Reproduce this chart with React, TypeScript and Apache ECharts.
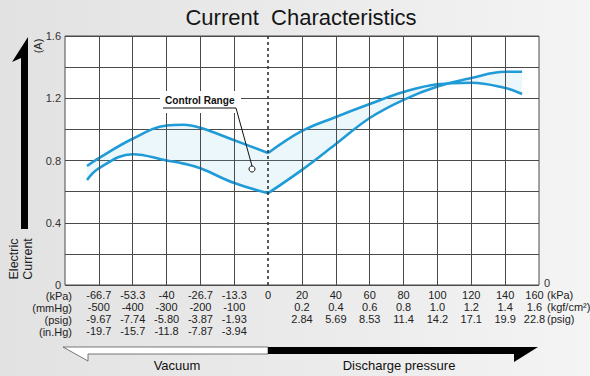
import React, { useEffect, useRef } from "react";
import * as echarts from "echarts";

// x positions are in "grid column" units: 0 = 0 kPa, each vacuum column = 13.33 kPa, each discharge column = 20 kPa
const xVacuum = [-5.35, -5, -4, -3, -2.5, -2, -1, 0];
const upperVacuum = [0.765, 0.815, 0.94, 1.025, 1.03, 1.01, 0.93, 0.848];
const lowerVacuum = [0.675, 0.75, 0.84, 0.8, 0.78, 0.75, 0.655, 0.59];

const xDischarge = [0, 1, 2, 3, 4, 5, 6, 7, 7.5];
const upperDischarge = [0.848, 0.99, 1.08, 1.163, 1.24, 1.29, 1.3, 1.266, 1.227];
const lowerDischarge = [0.59, 0.74, 0.906, 1.073, 1.19, 1.275, 1.33, 1.37, 1.37];

// tick labels
const tickPositions = [-5, -4, -3, -2, -1, 0, 1, 2, 3, 4, 5, 6, 7, 8];
const kPaLabels = ["-66.7", "-53.3", "-40", "-26.7", "-13.3", "0", "20", "40", "60", "80", "100", "120", "140", "160"];
const mmHgLabels = ["-500", "-400", "-300", "-200", "-100"];
const psigVacLabels = ["-9.67", "-7.74", "-5.80", "-3.87", "-1.93"];
const inHgLabels = ["-19.7", "-15.7", "-11.8", "-7.87", "-3.94"];
const kgfLabels = ["0.2", "0.4", "0.6", "0.8", "1.0", "1.2", "1.4", "1.6"];
const psigPosLabels = ["2.84", "5.69", "8.53", "11.4", "14.2", "17.1", "19.9", "22.8"];
const gridColumns = [-5, -4, -3, -2, -1, 1, 2, 3, 4, 5, 6, 7];

const BLUE = "#1f9bd7";
const GRIDC = "#4a4a4a";
const FONT = "'Liberation Sans', Arial, Helvetica, sans-serif";

function xLabel(v: number): string {
  const i = tickPositions.findIndex((t) => Math.abs(t - v) < 1e-6);
  if (i < 0) return "";
  const t = tickPositions[i];
  if (t < 0) return [kPaLabels[i], mmHgLabels[i], psigVacLabels[i], inHgLabels[i]].join("\n");
  if (t === 0) return kPaLabels[i];
  const j = t - 1;
  if (t === 8) return `{r|${kPaLabels[i]}}\n{r|${kgfLabels[j]}}\n{r|${psigPosLabels[j]}}`;
  return [kPaLabels[i], kgfLabels[j], psigPosLabels[j]].join("\n");
}

// data rows are [y, x] and encoded so that the stacked dimension is y
function bandSeries(xs: number[], a: number[], b: number[], key: string, withGrid: boolean) {
  const base = xs.map((x, i) => [Math.min(a[i], b[i]), x]);
  const diff = xs.map((x, i) => [Math.abs(a[i] - b[i]), x]);
  const s: any[] = [
    {
      type: "line",
      stack: key,
      data: base,
      encode: { x: 1, y: 0 },
      smooth: 0.4,
      symbol: "none",
      lineStyle: { opacity: 0 },
      silent: true,
      z: 1,
      markLine: withGrid
        ? {
            silent: true,
            symbol: "none",
            label: { show: false },
            animation: false,
            data: [
              ...gridColumns.map((c) => ({ xAxis: c, lineStyle: { color: GRIDC, width: 1, type: "solid" } })),
              { xAxis: 0, lineStyle: { color: "#333", width: 1.6, type: [3, 3] } },
            ],
          }
        : undefined,
    },
    {
      type: "line",
      stack: key,
      data: diff,
      encode: { x: 1, y: 0 },
      smooth: 0.4,
      symbol: "none",
      lineStyle: { opacity: 0 },
      areaStyle: { color: "rgba(120,195,235,0.2)" },
      silent: true,
      z: 2,
    },
  ];
  return s;
}

function curve(xs: number[], ys: number[]) {
  return {
    type: "line",
    data: xs.map((x, i) => [x, ys[i]]),
    smooth: 0.4,
    symbol: "none",
    lineStyle: { color: BLUE, width: 2.6 },
    z: 3,
  };
}

export default function App() {
  const ref = useRef<HTMLDivElement>(null);
  useEffect(() => {
    if (!ref.current) return;
    const chart = echarts.init(ref.current, null, { renderer: "svg" });
    chart.setOption({
      animation: false,
      backgroundColor: "transparent",
      textStyle: { fontFamily: FONT },
      grid: {
        left: 65,
        right: 51,
        top: 36,
        bottom: 91,
        show: true,
        backgroundColor: "#ffffff",
        borderColor: GRIDC,
        borderWidth: 1,
      },
      xAxis: {
        type: "value",
        min: -6,
        max: 8,
        interval: 1,
        axisLine: { show: false },
        axisTick: { show: false },
        splitLine: { show: false },
        axisLabel: {
          formatter: xLabel,
          fontSize: 11,
          lineHeight: 12,
          color: "#222",
          margin: 4,
          fontFamily: FONT,
          rich: { r: { fontSize: 11, lineHeight: 12, color: "#222", padding: [0, 9, 0, 0], fontFamily: FONT } },
        },
      },
      yAxis: {
        type: "value",
        min: 0,
        max: 1.6,
        interval: 0.2,
        axisLine: { show: false },
        axisTick: { show: false },
        splitLine: { show: true, lineStyle: { color: GRIDC, width: 1 } },
        axisLabel: {
          fontSize: 11,
          color: "#333",
          margin: 4,
          fontFamily: FONT,
          formatter: (v: number) => {
            const k = Math.round(v * 10);
            if (k % 4 !== 0) return "";
            return k === 0 ? "0" : (k / 10).toFixed(1);
          },
        },
      },
      series: [
        ...bandSeries(xVacuum, upperVacuum, lowerVacuum, "vac", true),
        ...bandSeries(xDischarge, upperDischarge, lowerDischarge, "dis", false),
        curve(xVacuum, upperVacuum),
        curve(xVacuum, lowerVacuum),
        curve(xDischarge, upperDischarge),
        curve(xDischarge, lowerDischarge),
      ],
      graphic: [
        {
          type: "text",
          x: 301,
          y: 17,
          style: {
            text: "Current  Characteristics",
            fontSize: 22,
            fontFamily: FONT,
            fill: "#151515",
            align: "center",
            verticalAlign: "middle",
          },
        },
        // vertical arrow
        {
          type: "polygon",
          shape: { points: [[28, 37], [12, 62], [21, 58], [21, 229], [28, 229]] },
          style: { fill: "#000" },
        },
        {
          type: "text",
          x: 21,
          y: 259,
          rotation: Math.PI / 2,
          style: {
            text: "Electric\nCurrent",
            fontSize: 12.5,
            lineHeight: 14,
            fontFamily: FONT,
            fill: "#222",
            align: "center",
            verticalAlign: "middle",
          },
        },
        {
          type: "text",
          x: 38,
          y: 46,
          rotation: Math.PI / 2,
          style: { text: "(A)", fontSize: 11, fontFamily: FONT, fill: "#222", align: "center", verticalAlign: "middle" },
        },
        // unit labels
        {
          type: "text",
          x: 72,
          y: 290,
          style: {
            text: "(kPa)\n(mmHg)\n(psig)\n(in.Hg)",
            fontSize: 11,
            lineHeight: 12,
            fontFamily: FONT,
            fill: "#222",
            align: "right",
            verticalAlign: "top",
          },
        },
        {
          type: "text",
          x: 547,
          y: 289,
          style: {
            text: "(kPa)\n(kgf/cm²)\n(psig)",
            fontSize: 11,
            lineHeight: 12,
            fontFamily: FONT,
            fill: "#222",
            align: "left",
            verticalAlign: "top",
          },
        },
        {
          type: "text",
          x: 544,
          y: 283,
          style: { text: "0", fontSize: 11, fontFamily: FONT, fill: "#333", align: "left", verticalAlign: "middle" },
        },
        // Control range annotation
        {
          type: "rect",
          shape: { x: 160, y: 91, width: 81, height: 22 },
          style: { fill: "#ffffff" },
          z: 50,
        },
        {
          type: "text",
          x: 165,
          y: 100,
          scaleX: 0.92,
          style: {
            text: "Control Range",
            fontSize: 11,
            fontWeight: "bold",
            fontFamily: FONT,
            fill: "#111",
            align: "left",
            verticalAlign: "middle",
          },
          z: 51,
        },
        {
          type: "polyline",
          shape: { points: [[163, 108], [236, 108], [252, 166]] },
          style: { stroke: "#111", lineWidth: 1, fill: "none" },
          z: 51,
        },
        {
          type: "circle",
          shape: { cx: 252, cy: 169, r: 3 },
          style: { fill: "#fff", stroke: "#111", lineWidth: 1 },
          z: 51,
        },
        // bottom arrows
        {
          type: "polygon",
          shape: { points: [[63, 347], [268, 347], [268, 354], [88, 354], [88, 361]] },
          style: { fill: "#fff", stroke: "#555", lineWidth: 0.8 },
        },
        {
          type: "polygon",
          shape: { points: [[268, 347], [538, 347], [514, 362], [514, 354], [268, 354]] },
          style: { fill: "#000" },
        },
        {
          type: "text",
          x: 177,
          y: 365,
          style: { text: "Vacuum", fontSize: 13, fontFamily: FONT, fill: "#111", align: "center", verticalAlign: "middle" },
        },
        {
          type: "text",
          x: 399,
          y: 365,
          style: {
            text: "Discharge pressure",
            fontSize: 13,
            fontFamily: FONT,
            fill: "#111",
            align: "center",
            verticalAlign: "middle",
          },
        },
      ],
    });
    return () => chart.dispose();
  }, []);
  return (
    <div
      style={{
        position: "absolute",
        left: 0,
        top: 0,
        width: 590,
        height: 376,
        background: "linear-gradient(to right, #e2e2e2 0%, #ececec 60%, #f4f4f4 100%)",
        overflow: "hidden",
      }}
    >
      <div ref={ref} style={{ width: 590, height: 376 }} />
    </div>
  );
}
